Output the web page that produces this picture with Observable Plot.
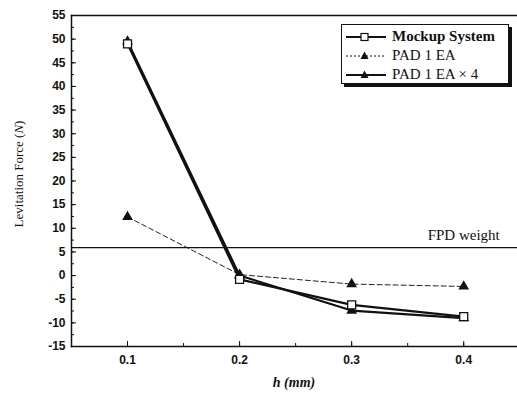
<!DOCTYPE html>
<html><head><meta charset="utf-8">
<script src="https://cdn.jsdelivr.net/npm/d3@7"></script>
<script src="https://cdn.jsdelivr.net/npm/@observablehq/plot@0.6"></script>
<style>
body{margin:0;background:#fff;}
#wrap{position:relative;width:517px;height:394px;}
.serif{font-family:"Liberation Serif","Times New Roman",serif;color:#111;}
</style></head>
<body><div id="wrap"></div>
<script>
const hValues = [0.1, 0.2, 0.3, 0.4];
const mockup = [49.0, -0.8, -6.2, -8.7];
const pad1 = [12.4, 0.2, -1.8, -2.3];
const pad4 = [49.5, 0.0, -7.4, -9.0];
const fpdWeight = 5.9;
const yTicks = [-15,-10,-5,0,5,10,15,20,25,30,35,40,45,50,55];
const yMinor = d3.range(-15, 55.01, 2.5);
const xTicks = [0.1, 0.2, 0.3, 0.4];
const xMinor = [0.05, 0.1, 0.15, 0.2, 0.25, 0.3, 0.35, 0.4, 0.45];

const rows = (vals, name) => hValues.map((h, i) => ({h, v: vals[i], name}));
const dMock = rows(mockup, "Mockup System");
const dPad1 = rows(pad1, "PAD 1 EA");
const dPad4 = rows(pad4, "PAD 1 EA x 4");

const chart = Plot.plot({
  width: 517, height: 394,
  marginLeft: 71, marginRight: 0, marginTop: 15, marginBottom: 48,
  x: {domain: [0.05, 0.448]},
  y: {domain: [-15, 55]},
  style: {fontFamily: "Liberation Sans, Arial, sans-serif", fontSize: "12px", fontWeight: "bold", color: "#111"},
  marks: [
    Plot.axisY({ticks: yMinor, tickSize: -3, text: null, label: null, strokeWidth: 1}),
    Plot.axisY({ticks: yTicks, tickSize: -5, text: null, label: null, strokeWidth: 1}),
    Plot.axisY({ticks: yTicks, tickSize: 0, tickPadding: 6, label: null, tickFormat: d => String(d)}),
    Plot.axisX({ticks: xMinor, tickSize: -3, text: null, label: null}),
    Plot.axisX({ticks: xTicks, tickSize: -5, text: null, label: null}),
    Plot.axisX({ticks: xTicks, tickSize: 0, tickPadding: 9, label: null, tickFormat: d => String(d)}),
    Plot.frame({anchor: "left", strokeWidth: 1.5}),
    Plot.frame({anchor: "bottom", strokeWidth: 1.5}),
    Plot.frame({anchor: "top", strokeWidth: 1.5}),
    Plot.ruleY([fpdWeight], {stroke: "#111", strokeWidth: 1.3}),
    Plot.text(["FPD weight"], {x: 0.4, y: fpdWeight, dx: 0, dy: -12, textAnchor: "middle", fontFamily: "Liberation Serif, serif", fontWeight: "normal", fontSize: 15}),
    Plot.line(dPad1, {x: "h", y: "v", stroke: "#222", strokeWidth: 1, strokeDasharray: "5,3"}),
    Plot.line(dPad4, {x: "h", y: "v", stroke: "#111", strokeWidth: 2.2}),
    Plot.line(dMock, {x: "h", y: "v", stroke: "#111", strokeWidth: 2.2}),
    Plot.dot(dPad1, {x: "h", y: "v", symbol: "triangle", fill: "#111", r: 4}),
    Plot.dot(dPad4, {x: "h", y: "v", symbol: "triangle", fill: "#111", r: 4}),
    Plot.dot(dMock, {x: "h", y: "v", symbol: "square", fill: "white", stroke: "#111", strokeWidth: 1.3, r: 4.5})
  ]
});
const wrap = document.getElementById("wrap");
wrap.appendChild(chart);

// Axis titles
const yl = document.createElement("div");
yl.className = "serif";
yl.style.cssText = "position:absolute;left:19px;top:174px;transform:translate(-50%,-50%) rotate(-90deg);white-space:nowrap;font-size:13px;";
yl.innerHTML = "Levitation Force (<i>N</i>)";
wrap.appendChild(yl);
const xl = document.createElement("div");
xl.className = "serif";
xl.style.cssText = "position:absolute;left:294px;top:383px;transform:translate(-50%,-50%);white-space:nowrap;font-size:14px;font-weight:bold;font-style:italic;";
xl.innerHTML = "h (mm)";
wrap.appendChild(xl);

// Legend
const legendItems = [
  {label: "Mockup System", sym: "square", dash: null, bold: true},
  {label: "PAD 1 EA", sym: "triangle", dash: "2,2", bold: false},
  {label: "PAD 1 EA \u00d7 4", sym: "triangle", dash: null, bold: false}
];
const lg = document.createElement("div");
lg.className = "serif";
lg.style.cssText = "position:absolute;left:341px;top:24px;width:166px;height:56px;border:1px solid #111;box-shadow:3px 3px 0 #111;background:#fff;padding:2px 0 0 0;";
legendItems.forEach(it => {
  const row = document.createElement("div");
  row.style.cssText = "display:flex;align-items:center;height:19px;font-size:15px;" + (it.bold ? "font-weight:bold;" : "");
  const symSvg = it.sym === "square"
    ? `<rect x="19" y="6.5" width="7" height="7" fill="white" stroke="#111" stroke-width="1.2"/>`
    : `<path d="M22.5,5.5 L26.5,13 L18.5,13 Z" fill="#111"/>`;
  row.innerHTML = `<svg width="48" height="19" style="flex:none"><line x1="4" x2="44" y1="10" y2="10" stroke="#111" stroke-width="${it.dash ? 1 : 2}" ${it.dash ? `stroke-dasharray="${it.dash}"` : ""}/>${symSvg}</svg><span style="margin-left:2px">${it.label}</span>`;
  lg.appendChild(row);
});
wrap.appendChild(lg);
</script>
</body></html>
